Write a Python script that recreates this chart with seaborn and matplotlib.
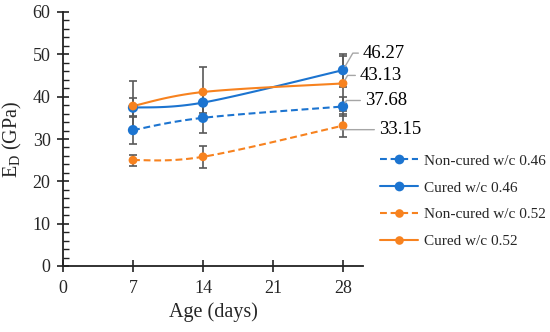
import numpy as np
import pandas as pd
import matplotlib
matplotlib.use("Agg")
import matplotlib.pyplot as plt
from matplotlib.lines import Line2D
import seaborn as sns

# ---------------- data ----------------
ages = [7, 14, 28]
series_names = ["Non-cured w/c 0.46", "Cured w/c 0.46", "Non-cured w/c 0.52", "Cured w/c 0.52"]
noncured_046 = [32.1, 35.0, 37.68]
cured_046 = [37.4, 38.6, 46.27]
noncured_052 = [25.0, 25.8, 33.15]
cured_052 = [37.8, 41.1, 43.13]
err_noncured_046 = [3.3, 3.5, 2.3]
err_cured_046 = [2.2, 2.5, 3.9]
err_noncured_052 = [1.3, 2.6, 2.65]
err_cured_052 = [5.9, 5.8, 6.5]
label_texts = ["37.68", "46.27", "33.15", "43.13"]
x_ticks = [0, 7, 14, 21, 28]
y_ticks = [0, 10, 20, 30, 40, 50, 60]

values = [noncured_046, cured_046, noncured_052, cured_052]
errors = [err_noncured_046, err_cured_046, err_noncured_052, err_cured_052]
BLUE = "#1C74D0"
ORANGE = "#F7821F"
colors = [BLUE, BLUE, ORANGE, ORANGE]
dashed = [True, False, True, False]
msizes = [55, 55, 40, 40]

df = pd.DataFrame({
    "age": np.tile(ages, 4),
    "value": np.concatenate(values),
    "series": np.repeat(series_names, 3),
})

# ---------------- style ----------------
sns.set_style("ticks")
plt.rcParams["font.family"] = ["Liberation Serif", "DejaVu Serif"]
plt.rcParams["mathtext.fontset"] = "custom"
plt.rcParams["mathtext.rm"] = "Liberation Serif"

fig = plt.figure(figsize=(5.5, 3.32), dpi=100)
ax = fig.add_axes([63 / 550, 66 / 332, 300 / 550, 254 / 332])


def smooth(xs, ys, n=40):
    """Excel-like smoothed (Bezier) path through the data points."""
    P = np.column_stack([xs, ys]).astype(float)
    out = []
    for i in range(len(P) - 1):
        p0 = P[i - 1] if i > 0 else P[i]
        p1, p2 = P[i], P[i + 1]
        p3 = P[i + 2] if i + 2 < len(P) else P[i + 1]
        c1 = p1 + (p2 - p0) / 6.0
        c2 = p2 - (p3 - p1) / 6.0
        t = np.linspace(0, 1, n)[:, None]
        seg = (1 - t) ** 3 * p1 + 3 * (1 - t) ** 2 * t * c1 + 3 * (1 - t) * t ** 2 * c2 + t ** 3 * p2
        out.append(seg if i == 0 else seg[1:])
    out = np.vstack(out)
    return out[:, 0], out[:, 1]


dash_style = (0, (3.3, 1.8))
for vals, errs, c, d in zip(values, errors, colors, dashed):
    ax.errorbar(ages, vals, yerr=errs, fmt="none", ecolor="#595959",
                elinewidth=1.2, capsize=3.2, capthick=1.2, zorder=1)
for vals, c, d in zip(values, colors, dashed):
    sx, sy = smooth(ages, vals)
    ax.plot(sx, sy, color=c, lw=1.5, linestyle=dash_style if d else "-",
            zorder=2, solid_capstyle="butt")

sns.scatterplot(data=df, x="age", y="value", hue="series", palette=dict(zip(series_names, colors)),
                size="series", sizes=dict(zip(series_names, msizes)),
                edgecolor="none", legend=False, ax=ax, zorder=3)

# data labels with leader lines
last_vals = [v[-1] for v in values]
offsets = [(22, 6), (20, 17), (36, -4), (17, 8)]
for val, txt, off in zip(last_vals, label_texts, offsets):
    ax.annotate(txt, xy=(ages[-1], val), xytext=off, textcoords="offset pixels",
                fontsize=13.5, ha="left", va="center", color="black",
                arrowprops=dict(arrowstyle="-", color="#A6A6A6", lw=1.0,
                                shrinkA=1, shrinkB=3,
                                connectionstyle="angle,angleA=0,angleB=60,rad=0"))

# axes
ax.set_xlim(0, 30)
ax.set_ylim(0, 60)
ax.set_xticks(x_ticks)
ax.set_yticks(y_ticks)
ax.set_yticks(np.arange(0, 61, 2), minor=True)
ax.tick_params(axis="both", which="major", direction="inout", length=8, width=1.2,
               labelsize=13, color="#222222")
ax.tick_params(axis="y", which="major", pad=5)
ax.tick_params(axis="x", which="major", pad=6)
ax.tick_params(axis="y", which="minor", direction="in", length=4, width=1.0, color="#222222")
ax.tick_params(axis="x", which="minor", bottom=False)
for s in ["top", "right"]:
    ax.spines[s].set_visible(False)
for s in ["left", "bottom"]:
    ax.spines[s].set_linewidth(1.3)
    ax.spines[s].set_color("#222222")
ax.set_facecolor("white")
ax.grid(False)

ax.set_xlabel("Age (days)", fontsize=14.5, labelpad=4)
ax.set_ylabel(r"E$_\mathregular{D}$ (GPa)", fontsize=14.5, labelpad=6)

# legend
handles = [Line2D([0], [0], color=c, lw=1.5, linestyle=dash_style if d else "-",
                  marker="o", markersize=7 if c == BLUE else 6.2, markeredgecolor="none")
           for c, d in zip(colors, dashed)]
fig.legend(handles, series_names, loc="upper left", bbox_to_anchor=(380 / 550, 1 - 154 / 332),
           frameon=False, fontsize=11, handlelength=2.5, handletextpad=0.4,
           labelspacing=0.86, borderpad=0, borderaxespad=0)

fig.savefig("out.png", dpi=100, facecolor="white")
